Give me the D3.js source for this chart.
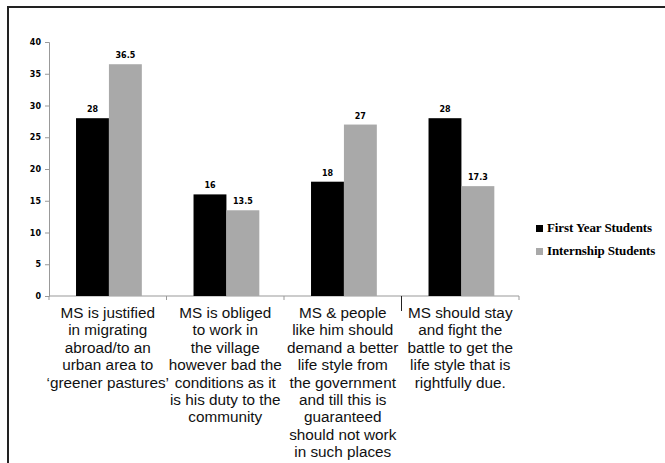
<!DOCTYPE html>
<html><head><meta charset="utf-8">
<script src="https://cdn.jsdelivr.net/npm/d3@7"></script>
<style>html,body{margin:0;padding:0;background:#fff;}</style>
</head><body>
<script>
const categories = ["c1","c2","c3","c4"];
const categoryLabels = [
  ["MS is justified","in migrating","abroad/to an","urban area to","\u2018greener pastures\u2019"],
  ["MS is obliged","to work in","the village","however bad the","conditions as it","is his duty to the","community"],
  ["MS & people","like him should","demand a better","life style from","the government","and till this is","guaranteed","should not work","in such places"],
  ["MS should stay","and fight the","battle to get the","life style that is","rightfully due."]
];
const seriesNames = ["First Year Students","Internship Students"];
const firstYear = [28,16,18,28];
const internship = [36.5,13.5,27,17.3];
const valueLabels = [["28","16","18","28"],["36.5","13.5","27","17.3"]];
const yTicks = [0,5,10,15,20,25,30,35,40];
const colors = ["#000000","#a9a9a9"];

const W=665,H=463;
const svg=d3.select("body").append("svg").attr("width",W).attr("height",H);
svg.append("rect").attr("x",8).attr("y",7).attr("width",700).attr("height",500)
  .attr("fill","none").attr("stroke","#222").attr("stroke-width",2);

const x=d3.scaleBand().domain(categories).range([49,519]).padding(0);
const bw=x.bandwidth();
const xs=d3.scaleBand().domain([0,1]).range([bw*0.23,bw*0.79]).padding(0);
const y=d3.scaleLinear().domain([0,40]).range([296,42]);

// y axis
const ya=svg.append("g").attr("transform","translate(49,0)")
  .call(d3.axisLeft(y).tickValues(yTicks).tickSize(4).tickPadding(4));
ya.select(".domain").attr("stroke","#999");
ya.selectAll(".tick line").attr("stroke","#999");
ya.selectAll("text").attr("font-family","DejaVu Sans").attr("font-weight","bold").attr("font-size",8).attr("fill","#000");

// x axis
svg.append("line").attr("x1",49).attr("x2",519).attr("y1",y(0)).attr("y2",y(0)).attr("stroke","#999");
const bounds=categories.map(c=>x(c)).concat([x(categories[3])+bw]);
svg.selectAll(".xt").data(bounds).enter().append("line")
  .attr("x1",d=>d).attr("x2",d=>d).attr("y1",y(0)).attr("y2",(d,i)=>i===3?y(0)+15:y(0)+4)
  .attr("stroke",(d,i)=>i===3?"#222":"#999");

const series=[firstYear,internship];
series.forEach((vals,si)=>{
  svg.selectAll(".b"+si).data(vals).enter().append("rect")
    .attr("x",(d,i)=>x(categories[i])+xs(si))
    .attr("y",d=>y(d))
    .attr("width",xs.bandwidth())
    .attr("height",d=>y(0)-y(d))
    .attr("fill",colors[si]);
  svg.selectAll(".v"+si).data(vals).enter().append("text")
    .attr("x",(d,i)=>x(categories[i])+xs(si)+xs.bandwidth()/2)
    .attr("y",d=>y(d)-6)
    .attr("text-anchor","middle")
    .attr("font-family","DejaVu Sans").attr("font-weight","bold").attr("font-size",8)
    .text((d,i)=>valueLabels[si][i]);
});

// category labels
categoryLabels.forEach((lines,i)=>{
  const t=svg.append("text").attr("text-anchor","middle")
    .attr("font-family","Liberation Sans").attr("font-size",15.3)
    .attr("fill","#111");
  lines.forEach((l,j)=>{
    t.append("tspan").attr("x",x(categories[i])+bw/2).attr("y",318+j*17.4).text(l);
  });
});

// legend
seriesNames.forEach((n,i)=>{
  svg.append("rect").attr("x",536).attr("y",225+i*23).attr("width",7).attr("height",7).attr("fill",colors[i]);
  svg.append("text").attr("x",547).attr("y",232+i*23)
    .attr("font-family","Liberation Serif").attr("font-weight","bold").attr("font-size",13)
    .attr("letter-spacing",-0.1).text(n);
});
</script>
</body></html>
